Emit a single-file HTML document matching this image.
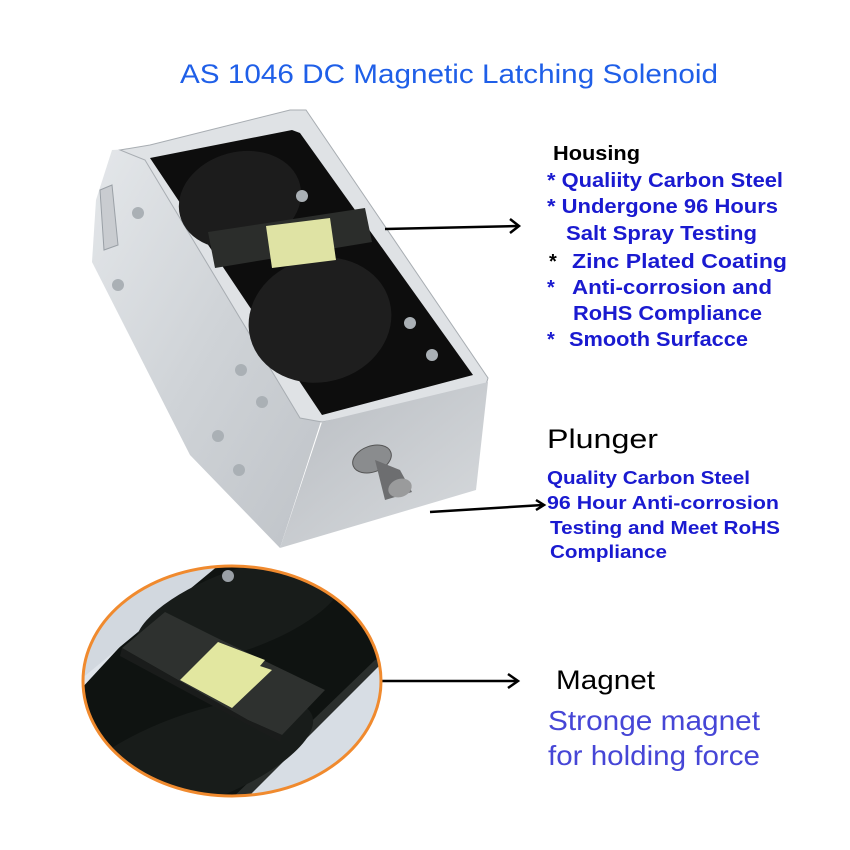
<!DOCTYPE html>
<html><head><meta charset="utf-8"><style>
html,body{margin:0;padding:0;background:#fff;}
svg{display:block;}
</style></head><body>
<svg width="850" height="850" viewBox="0 0 850 850" xmlns="http://www.w3.org/2000/svg" font-family="Liberation Sans, Arial, sans-serif">
<defs>
<linearGradient id="side" x1="0" y1="0" x2="1" y2="1">
<stop offset="0" stop-color="#e4e7ea"/><stop offset="0.5" stop-color="#cfd3d7"/><stop offset="1" stop-color="#bfc3c8"/></linearGradient>
<linearGradient id="front" x1="0" y1="0" x2="1" y2="1">
<stop offset="0" stop-color="#b9bdc2"/><stop offset="1" stop-color="#d8dbde"/></linearGradient>
<clipPath id="cc"><ellipse cx="232" cy="681" rx="149" ry="115"/></clipPath>
</defs>
<rect width="850" height="850" fill="#fff"/>
<text x="180" y="83" font-size="27" fill="#1f5fe8" textLength="538" lengthAdjust="spacingAndGlyphs">AS 1046 DC Magnetic Latching Solenoid</text>

<!-- solenoid -->
<polygon points="112,150 148,148 322,418 280,548 190,455 92,262 96,200" fill="url(#side)"/>
<polygon points="100,190 112,185 118,245 104,250" fill="#c9ccd0" stroke="#9aa0a6"/>
<polygon points="120,150 150,145 290,110 306,110 488,378 484,392 322,422 300,418 145,160" fill="#dfe2e5" stroke="#a8adb2"/>
<polygon points="150,158 292,130 300,133 473,375 322,415" fill="#0d0d0d"/>
<ellipse cx="240" cy="200" rx="62" ry="48" fill="#1c1c1c" transform="rotate(-15 240 200)"/>
<ellipse cx="320" cy="320" rx="72" ry="62" fill="#1e1e1e" transform="rotate(-15 320 320)"/>
<polygon points="208,232 365,208 372,242 215,268" fill="#2b2d2b"/>
<polygon points="266,226 330,218 336,260 272,268" fill="#dfe3a4"/>
<polygon points="322,422 488,382 476,490 280,548" fill="url(#front)"/>
<circle cx="302" cy="196" r="6" fill="#aab0b5"/>
<circle cx="410" cy="323" r="6" fill="#aab0b5"/>
<circle cx="432" cy="355" r="6" fill="#aab0b5"/>
<circle cx="138" cy="213" r="6" fill="#aab0b5"/>
<circle cx="118" cy="285" r="6" fill="#aab0b5"/>
<circle cx="241" cy="370" r="6" fill="#aab0b5"/>
<circle cx="262" cy="402" r="6" fill="#aab0b5"/>
<circle cx="218" cy="436" r="6" fill="#aab0b5"/>
<circle cx="239" cy="470" r="6" fill="#aab0b5"/>
<ellipse cx="372" cy="459" rx="20" ry="13" fill="#8a8c8e" stroke="#555" transform="rotate(-20 372 459)"/>
<polygon points="375,460 400,470 412,492 385,500" fill="#6d6e70"/>
<ellipse cx="400" cy="488" rx="12" ry="9" fill="#9a9b9c" transform="rotate(-20 400 488)"/>

<!-- arrows -->
<g stroke="#000" stroke-width="2.5" fill="none">
<line x1="385" y1="229" x2="518" y2="226"/><polyline points="510,219 519,226 510,233"/>
<line x1="430" y1="512" x2="543" y2="505"/><polyline points="536,500 544,505 536,510"/>
<line x1="382" y1="681" x2="517" y2="681"/><polyline points="508,674 518,681 508,688"/>
</g>

<!-- magnet close-up -->
<g clip-path="url(#cc)">
<rect x="80" y="560" width="310" height="245" fill="#0f1311"/>
<polygon points="80,560 200,560 80,690" fill="#dfe4ea"/>
<polygon points="80,595 210,560 225,560 80,680" fill="#d2d8df"/>
<polygon points="390,650 390,805 230,805" fill="#d7dde4"/>
<polygon points="375,660 390,655 240,805 225,805" fill="#2a2e2c"/>
<ellipse cx="240" cy="610" rx="110" ry="40" fill="#181c1a" transform="rotate(-20 240 610)"/>
<ellipse cx="190" cy="760" rx="130" ry="45" fill="#181c1a" transform="rotate(-20 190 760)"/>
<polygon points="165,612 215,637 325,690 282,735 248,720 122,648" fill="#2e312f"/>
<polygon points="122,648 248,720 282,735 280,742 120,656" fill="#1a1c1b"/>
<polygon points="218,642 265,660 260,666 272,670 232,708 180,680" fill="#e2e7a0"/>
<circle cx="228" cy="576" r="6" fill="#9aa0a6"/>
</g>
<ellipse cx="232" cy="681" rx="149" ry="115" fill="none" stroke="#f08a2e" stroke-width="3"/>

<!-- housing text -->
<g font-size="20" font-weight="bold" fill="#1a1ad0" lengthAdjust="spacingAndGlyphs">
<text x="553" y="160" fill="#000" textLength="87" lengthAdjust="spacingAndGlyphs">Housing</text>
<text x="547" y="187" textLength="236" lengthAdjust="spacingAndGlyphs">* Qualiity Carbon Steel</text>
<text x="547" y="213" textLength="231" lengthAdjust="spacingAndGlyphs">* Undergone 96 Hours</text>
<text x="566" y="240" textLength="191" lengthAdjust="spacingAndGlyphs">Salt Spray Testing</text>
<text x="549" y="268" fill="#000">*</text><text x="572" y="268" textLength="215" lengthAdjust="spacingAndGlyphs">Zinc Plated Coating</text>
<text x="547" y="294">*</text><text x="572" y="294" textLength="200" lengthAdjust="spacingAndGlyphs">Anti-corrosion and</text>
<text x="573" y="320" textLength="189" lengthAdjust="spacingAndGlyphs">RoHS Compliance</text>
<text x="547" y="346">*</text><text x="569" y="346" textLength="179" lengthAdjust="spacingAndGlyphs">Smooth Surfacce</text>
</g>
<text x="547" y="448" font-size="27" fill="#000" textLength="111" lengthAdjust="spacingAndGlyphs">Plunger</text>
<g font-size="18" font-weight="bold" fill="#1a1ad0">
<text x="547" y="484" textLength="203" lengthAdjust="spacingAndGlyphs">Quality Carbon Steel</text>
<text x="547" y="509" textLength="232" lengthAdjust="spacingAndGlyphs">96 Hour Anti-corrosion</text>
<text x="550" y="534" textLength="230" lengthAdjust="spacingAndGlyphs">Testing and Meet RoHS</text>
<text x="550" y="558" textLength="117" lengthAdjust="spacingAndGlyphs">Compliance</text>
</g>
<text x="556" y="689" font-size="27" fill="#000" textLength="99" lengthAdjust="spacingAndGlyphs">Magnet</text>
<text x="548" y="730" font-size="28" fill="#4646d6" textLength="212" lengthAdjust="spacingAndGlyphs">Stronge magnet</text>
<text x="548" y="765" font-size="28" fill="#4646d6" textLength="212" lengthAdjust="spacingAndGlyphs">for holding force</text>
</svg>
</body></html>
